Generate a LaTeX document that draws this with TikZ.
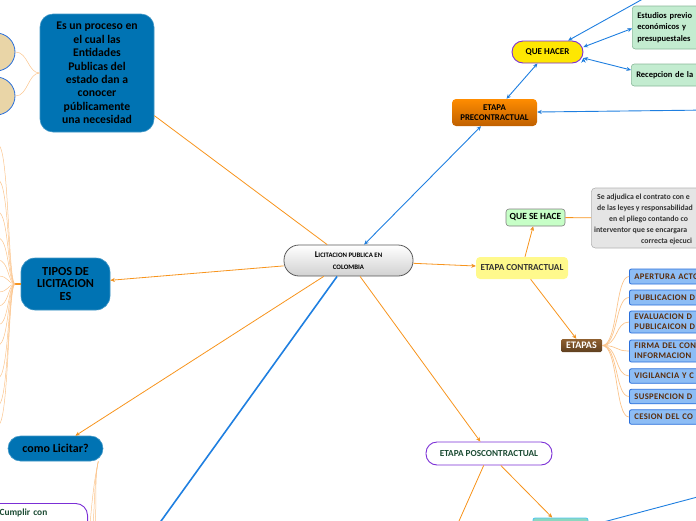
\documentclass[tikz,border=0pt]{standalone}
\usepackage{fontspec}
\setmainfont{Carlito}
\usetikzlibrary{positioning, arrows.meta}

\definecolor{mapblue}{HTML}{0073B3}
\definecolor{maporange}{HTML}{F7941D}
\definecolor{fanorange}{HTML}{FBC48C}
\definecolor{linkblue}{HTML}{1F7FE0}
\definecolor{mappurple}{HTML}{7B2FD6}
\definecolor{darkgreen}{HTML}{1B4B33}
\definecolor{listtext}{HTML}{5A2C0A}
\definecolor{listfill}{HTML}{8DBDF5}
\definecolor{listdraw}{HTML}{2A6FDB}
\definecolor{tanfill}{HTML}{E9D5A7}
\definecolor{mintfill}{HTML}{C3ECD0}
\definecolor{mintdraw}{HTML}{8AB89A}

\tikzset{
  bluebox/.style={draw=mapblue!75!white, fill=mapblue, line width=0.6pt, align=center, text=black, inner sep=0pt},
  tancircle/.style={circle, draw=listdraw, fill=tanfill, line width=0.8pt, minimum size=38pt, inner sep=0pt},
  centerbox/.style={draw=black!65, line width=0.8pt, top color=white, bottom color=black!18, rounded corners=15pt, minimum width=129pt, minimum height=31pt, align=center, font=\bfseries, inner sep=0pt},
  prebox/.style={top color=orange!90!yellow, bottom color=orange!75!black, rounded corners=4pt, minimum width=85pt, minimum height=27pt, align=center, font=\bfseries\fontsize{8.8}{10.5}\selectfont, inner sep=0pt},
  capsule/.style={draw=mappurple, line width=0.9pt, rounded corners=11pt, inner sep=0pt, font=\bfseries\fontsize{9}{10}\selectfont},
  mintbox/.style={draw=mintdraw, fill=mintfill, line width=0.6pt, rounded corners=3pt, inner sep=0pt, font=\bfseries\fontsize{8.5}{11.5}\selectfont},
  graybox/.style={draw=black!30, fill=black!10, line width=0.6pt, rounded corners=4pt, inner sep=0pt},
  adjtext/.style={anchor=west, inner sep=0pt, text=black!80, font=\bfseries\fontsize{7.8}{9}\selectfont},
  listbox/.style={draw=listdraw, fill=listfill, line width=0.8pt, rounded corners=2pt, minimum width=100pt, text width=90pt, inner xsep=5pt, inner ysep=0pt, align=left, text=listtext, font=\bfseries\fontsize{8.6}{10}\selectfont\addfontfeature{LetterSpace=4}},
  orangeline/.style={draw=maporange, line width=0.8pt},
  fanline/.style={draw=fanorange, line width=0.5pt},
  blueline/.style={draw=linkblue, line width=0.9pt}
}

\begin{document}
\begin{tikzpicture}[x=1pt, y=-1pt, >={Stealth[length=4.5pt,width=4pt]}]
  \useasboundingbox (0,0) rectangle (696,520);
  \clip (0,0) rectangle (696,520);

  % centre and first level
  \node[centerbox] (lic) at (348.5,260.5) {\fontsize{8.8}{10}\selectfont L\fontsize{6.8}{10}\selectfont ICITACION PUBLICA EN\\{\fontsize{6.8}{10}\selectfont COLOMBIA}};
  \node[bluebox, minimum width=114pt, minimum height=118pt, rounded corners=13pt, font=\bfseries\fontsize{11.7}{13.4}\selectfont] (proc) at (97,73) {Es un proceso en\\el cual las\\Entidades\\Publicas del\\estado dan a\\conocer\\públicamente\\una necesidad};
  \node[bluebox, minimum width=89pt, minimum height=52pt, rounded corners=14pt, font=\bfseries\fontsize{12.3}{12.8}\selectfont] (tip) at (65.5,284) {TIPOS DE\\LICITACION\\ES};
  \node[bluebox, minimum width=95pt, minimum height=25pt, rounded corners=12.5pt, font=\bfseries\fontsize{12}{13}\selectfont] (como) at (55.5,448.5) {como Licitar?};
  \node[prebox] (pre) at (494.5,112.5) {ETAPA\\PRECONTRACTUAL};
  \node[fill=yellow!45!white, rounded corners=4pt, minimum width=92pt, minimum height=22pt, inner sep=0pt, text=black!80, font=\bfseries\fontsize{9.2}{10}\selectfont] (con) at (522,268) {ETAPA CONTRACTUAL};
  \node[capsule, fill=white, minimum width=126pt, minimum height=23pt, text=darkgreen, font=\bfseries\fontsize{9.2}{10}\selectfont] (pos) at (489,453.5) {ETAPA POSCONTRACTUAL};

  % precontractual
  \node[capsule, fill=yellow!90!orange, minimum width=71pt, minimum height=22pt] (qh) at (547.5,52) {QUE HACER};
  \node[mintbox, anchor=west, minimum width=110pt, minimum height=43pt, text width=100pt, inner xsep=3pt, align=left] (est) at (632,27.5) {Estudios previo\\económicos y\\presupuestales};
  \node[mintbox, anchor=west, minimum width=110pt, minimum height=22pt, text width=100pt, inner xsep=3pt, align=left] (rec) at (631,75) {Recepcion de la};
  \node[tancircle] (circA) at (-4,52) {};
  \node[tancircle] (circB) at (-4,96) {};

  % contractual
  \node[mintbox, fill=green!22!white, draw=black!50, minimum width=59pt, minimum height=17pt, font=\bfseries\fontsize{9.4}{10}\selectfont] (qsh) at (535.5,217.5) {QUE SE HACE};
  \node[graybox, anchor=west, minimum width=150pt, minimum height=60pt] (adj) at (591,218) {};
  \foreach \tx/\ty/\tl [count=\i] in {597/197/Se adjudica el contrato con e, 597/208/de las leyes y responsabilidad, 609/219/en el pliego contando co, 594/230/interventor que se encargara, 641/241.5/correcta ejecuci}
    \node[adjtext] (adj-\i) at (\tx,\ty) {\tl};
  \node[top color=brown!75!black, bottom color=brown!50!black, rounded corners=1.5pt, minimum width=41pt, minimum height=13pt, inner sep=0pt, text=white, font=\bfseries\fontsize{10}{10}\selectfont] (etp) at (581.5,345.5) {ETAPAS};
  \foreach \ly/\lh/\ltxt [count=\i] in {276.5/15/{APERTURA ACTO}, 297.5/15/{PUBLICACION D}, 322/22/{EVALUACION D\\PUBLICAICON D}, 351/22/{FIRMA DEL CON\\INFORMACION}, 376/14.5/{VIGILANCIA Y C}, 396.5/14.5/{SUSPENCION D}, 417/14.5/{CESION DEL CO}}
  {
    \node[listbox, anchor=west, minimum height=\lh pt] (phase-\i) at (629,\ly) {\ltxt};
    \draw[fanline, line width=0.7pt] (etp.east) .. controls +(16,0) and +(-14,0) .. (phase-\i.west);
  }

  % poscontractual and lower left
  \node[fill=cyan!40!green!45!white, draw=cyan!70!white, line width=0.8pt, rounded corners=2pt, minimum width=55pt, minimum height=16pt] (teal) at (560.5,526) {};
  \node[capsule, fill=white, anchor=north east, rounded corners=12pt, text width=74pt, inner xsep=14pt, inner ysep=3pt, text height=9pt, text depth=25pt, align=left, text=darkgreen, font=\bfseries\fontsize{9.4}{10}\selectfont] (cum) at (88,503) {Cumplir con};

  \coordinate (topin) at (650,-5);
  \coordinate (rightin) at (710,110);
  \coordinate (botblue) at (151,535);
  \coordinate (posout) at (455,530);
  \coordinate (tealout) at (720,491);
  \coordinate (tipj) at (15,284);

  % connectors
  \path[orangeline] (proc) edge (lic);
  \path[orangeline, ->] (lic) edge (tip)
                       (lic) edge (con)
                       (lic) edge (como)
                       (lic) edge (pos)
                       (con) edge (qsh)
                       (con) edge (etp)
                       (pos) edge (teal);
  \draw[orangeline] (pos) -- (posout);
  \draw[orangeline] (qsh) -- (adj);
  \path[blueline, <->] (lic) edge (pre)
                      (qh) edge (pre)
                      ([yshift=5pt]qh.east) edge ([yshift=-1pt]est.west)
                      ([yshift=-6pt]qh.east) edge ([yshift=5pt]rec.west);
  \path[blueline, ->] (topin) edge (qh)
                     (rightin) edge (pre);
  \draw[blueline] (teal.east) -- (tealout);
  \draw[blueline, line width=1.6pt] (lic) -- (botblue);

  \draw[fanline] (proc.west) .. controls (28,73) and (28,52) .. (circA.east);
  \draw[fanline] (proc.west) .. controls (28,73) and (28,96) .. (circB.east);

  \draw[orangeline, line width=1.2pt] (tip.west) -- (tipj);
  \foreach \ey [count=\i] in {145,180,212,238,260,276,292,306,325,345,378,405,425}
  {
    \coordinate (fan-\i) at (-2,\ey);
    \draw[fanline] (tipj) .. controls (8,284) and (9,\ey) .. (fan-\i);
  }

  \coordinate (comoA) at (90,525);
  \coordinate (comoB) at (93,525);
  \coordinate (comoC) at (95,525);
  \foreach \c in {comoA,comoB,comoC}
    \draw[fanline] ([xshift=-5pt]como.south east) .. controls +(-4,18) and +(2,-25) .. (\c);
\end{tikzpicture}
\end{document}
